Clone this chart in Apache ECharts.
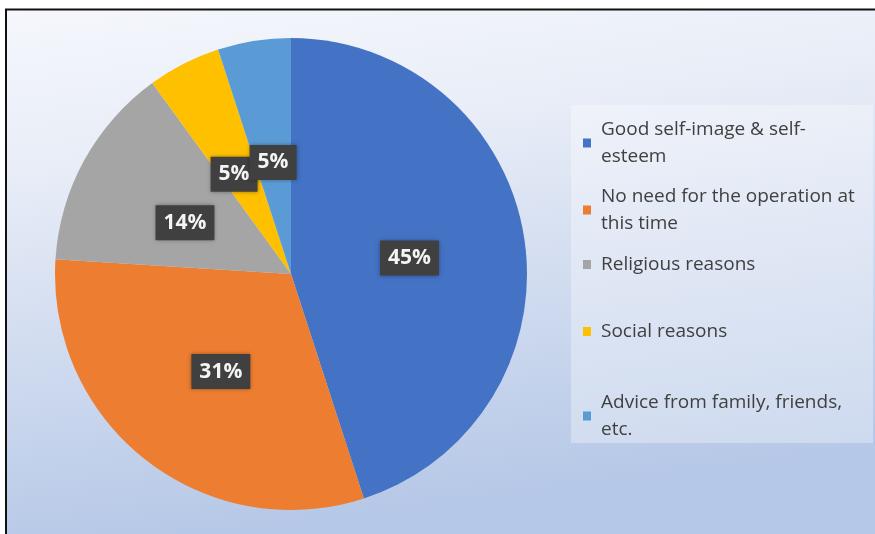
<!DOCTYPE html>
<html>
<head>
<meta charset="utf-8">
<script src="https://cdn.jsdelivr.net/npm/echarts@6/dist/echarts.min.js"></script>
<style>
  html, body { margin: 0; padding: 0; background: #ffffff; }
  #chart { width: 875px; height: 534px; }
</style>
</head>
<body>
<div id="chart"></div>
<script>
// Reasons for declining the operation (share of respondents, %)
const categories = [
  'Good self-image & self-esteem',
  'No need for the operation at this time',
  'Religious reasons',
  'Social reasons',
  'Advice from family, friends, etc.'
];
const values = [45, 31, 14, 5, 5];
// Legend text as it wraps in the key
const legendLabels = [
  'Good self-image & self-\nesteem',
  'No need for the operation at\nthis time',
  'Religious reasons',
  'Social reasons',
  'Advice from family, friends,\netc.'
];
const colors = ['#4472C4', '#ED7D31', '#A5A5A5', '#FFC000', '#5B9BD5'];
const legendTops = [120, 187, 255, 322, 393];
// Small nudges of the value boxes away from the slice mid-radius
const labelNudges = [[-1, 3], [4, 2], [0, 7], [-2, 8], [1, 8]];

const chart = echarts.init(document.getElementById('chart'), null, { renderer: 'canvas' });

const legends = categories.map((name, i) => ({
  data: [name],
  orient: 'vertical',
  left: 583,
  top: legendTops[i],
  padding: 0,
  icon: 'rect',
  itemWidth: 8,
  itemHeight: 9,
  selectedMode: false,
  formatter: () => legendLabels[i],
  textStyle: {
    fontFamily: 'Open Sans',
    fontSize: 19,
    lineHeight: 27,
    color: '#404040',
    verticalAlign: 'top',
    padding: [-13.5, 0, 0, 5]
  }
}));

chart.setOption({
  animation: false,
  color: colors,
  graphic: [
    {
      type: 'rect',
      z: -10,
      silent: true,
      shape: { x: 6, y: 9.5, width: 880, height: 540 },
      style: {
        fill: {
          type: 'linear', x: 0, y: 0, x2: 0.08, y2: 1,
          colorStops: [
            { offset: 0, color: '#f5f7fc' },
            { offset: 0.3, color: '#e8edf7' },
            { offset: 1, color: '#b6c8e7' }
          ]
        },
        stroke: '#111111',
        lineWidth: 2
      }
    },
    {
      type: 'rect',
      z: -5,
      silent: true,
      shape: { x: 571, y: 105, width: 302, height: 338 },
      style: { fill: 'rgba(255,255,255,0.32)' }
    }
  ],
  legend: legends,
  series: [{
    type: 'pie',
    center: [291, 274],
    radius: 236,
    startAngle: 90,
    clockwise: true,
    silent: true,
    avoidLabelOverlap: false,
    labelLayout: { hideOverlap: false },
    itemStyle: { borderWidth: 0 },
    label: {
      show: true,
      position: 'inside',
      formatter: '{c}%',
      fontFamily: 'Open Sans',
      fontWeight: 'bold',
      fontSize: 21,
      lineHeight: 22,
      color: '#f4f4f4',
      backgroundColor: '#404040',
      padding: [6, 8, 7, 8],
      shadowColor: 'rgba(0,0,0,0.35)',
      shadowBlur: 4
    },
    labelLine: { show: false },
    data: categories.map((name, i) => ({
      name,
      value: values[i],
      label: { offset: labelNudges[i] }
    }))
  }]
});
</script>
</body>
</html>
